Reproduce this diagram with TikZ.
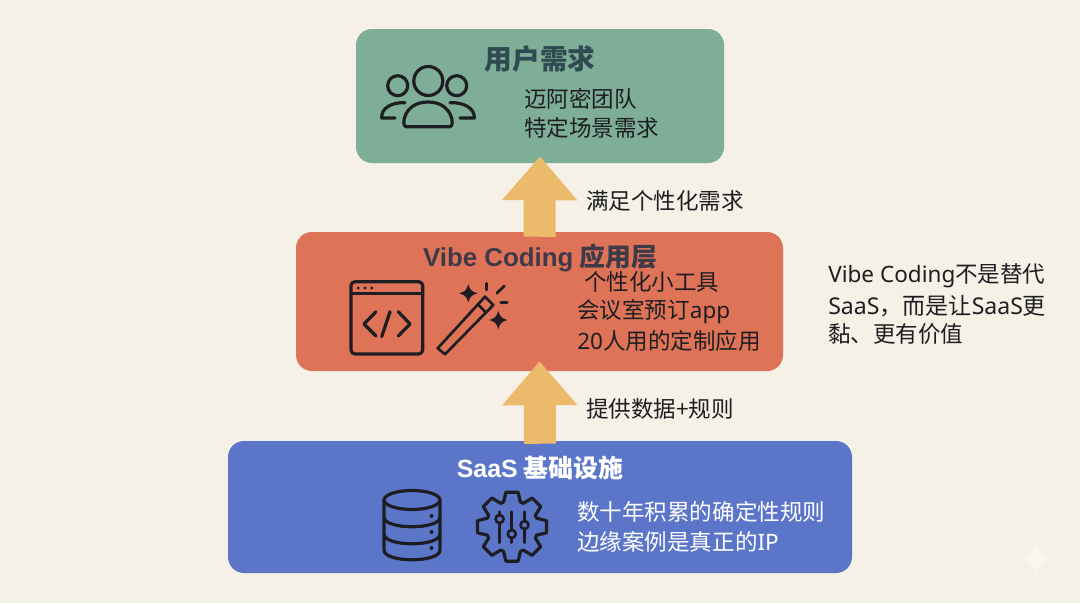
\documentclass[tikz,border=0pt]{standalone}
\usepackage{fontspec}
\usetikzlibrary{arrows.meta,calc}
\newfontfamily\cjkf{Noto Sans CJK SC}
\newfontfamily\latf{Noto Sans}
\newfontfamily\latb{Liberation Sans}
\newcommand{\lat}[1]{{\latf #1}}
\newcommand{\latbold}[1]{{\latb\bfseries #1}}
\newcommand{\fsz}[1]{\fontsize{#1}{#1}\selectfont}
\definecolor{bgc}{HTML}{F5F1E6}
\definecolor{greenc}{HTML}{7FAE98}
\definecolor{orangec}{HTML}{DF7358}
\definecolor{bluec}{HTML}{5B75C9}
\definecolor{arrowc}{HTML}{EBBB6B}
\definecolor{titlegreen}{HTML}{2F4A50}
\definecolor{titleorange}{HTML}{3F3A48}
\definecolor{inkc}{HTML}{1E1E22}
\definecolor{sparkc}{HTML}{F9F6EF}
\tikzset{
  x=0.75pt,y=-0.75pt,
  box/.style={draw=none,rounded corners=12pt,inner sep=0pt},
  txt/.style={inner sep=0pt,anchor=west,font=\cjkf\fsz{16.9},text=inkc,yshift=-0.7pt},
  title/.style={inner sep=0pt,anchor=center,font=\cjkf\bfseries\fsz{20.8}},
  flow/.style={draw=arrowc,line width=24pt,-{Triangle[length=33pt,width=54.5pt,color=arrowc]}},
  icon/.style={draw=inkc,line width=2.4pt,line cap=round,line join=round,fill=none},
  iconthin/.style={icon,line width=2pt},
}
\begin{document}
\begin{tikzpicture}
\useasboundingbox (0,0) rectangle (1080,603);
\fill[bgc] (0,0) rectangle (1080,603);
% boxes
\node[box,fill=greenc,minimum width=276pt,minimum height=100.5pt] (userbox) at (540,96) {};
\node[box,fill=orangec,minimum width=365.25pt,minimum height=104.25pt] (appbox) at (539.5,301.5) {};
\node[box,fill=bluec,minimum width=468pt,minimum height=99pt] (saasbox) at (540,507) {};
% arrows
\coordinate (a1s) at ($(appbox.north)+(0,5)$);
\coordinate (a1e) at ($(userbox.south)+(0,-7)$);
\coordinate (a2s) at ($(saasbox.north)+(0,3)$);
\coordinate (a2e) at ($(appbox.south)+(0,-10)$);
\draw[flow] (a1s) -- (a1e);
\draw[flow] (a2s) -- (a2e);
% titles
\node[title,text=titlegreen] (t1) at (540,59) {用户需求};
\node[title,text=titleorange,font=\cjkf\bfseries\fsz{19.4}] (t2) at (540,258) {\latbold{Vibe Coding} 应用层};
\node[title,text=white,font=\cjkf\bfseries\fsz{18.7}] (t3) at (540,468) {\latbold{SaaS} 基础设施};
% body text
\node[txt] (u1) at (524,98) {迈阿密团队};
\node[txt] (u2) at (524,127) {特定场景需求};
\node[txt] (l1) at (586,200) {满足个性化需求};
\node[txt] (a1) at (584,281) {个性化小工具};
\node[txt] (a2) at (577,311) {会议室预订\lat{app}};
\node[txt] (a3) at (577,340) {\lat{20}人用的定制应用};
\node[txt] (l2) at (586,408) {提供数据+规则};
\node[txt,text=white] (s1) at (577,511) {数十年积累的确定性规则};
\node[txt,text=white] (s2) at (577,541) {边缘案例是真正的\lat{IP}};
\node[txt] (n1) at (828,275) {\lat{Vibe Coding}不是替代};
\node[txt,font=\cjkf\fsz{17.3}] (n2) at (828,305) {\lat{SaaS}，而是让\lat{SaaS}更};
\node[txt] (n3) at (828,333) {黏、更有价值};
% people icon
\draw[icon] (428.3,81) circle (14.5);
\draw[icon] (397.7,85.7) circle (10);
\draw[icon] (456.7,85.7) circle (10);
\draw[icon] (406,126.7) .. controls (401,126.7) and (403,102) .. (428,102) .. controls (453,102) and (455,126.7) .. (450,126.7) -- cycle;
\draw[icon] (405,102.7) .. controls (392,102) and (381,108) .. (381.7,118) -- (395,118);
\draw[icon] (450,102.7) .. controls (463,102) and (475,108) .. (474.3,118) -- (460,118);
% window icon
\draw[icon,rounded corners=3pt] (351,281.7) rectangle (422.7,354);
\draw[icon] (351,293.3) -- (422.7,293.3);
\foreach \dx in {358.3,365,371.7} \fill[inkc] (\dx,288) circle (1.6);
\draw[icon] (376,311.7) -- (364,324) -- (376,336);
\draw[icon] (398.3,311.7) -- (410,324) -- (398.3,336);
\draw[icon] (390,311.7) -- (381.7,336.7);
% wand icon
\draw[iconthin] (437.7,348.3) -- (445,354.3) -- (493.3,305) -- (485,296.7) -- cycle;
\draw[iconthin] (477.7,304) -- (485,311.7);
\foreach \cx/\cy in {468.3/293.3,498.3/320}
  \fill[inkc] (\cx-9,\cy) .. controls (\cx-3,\cy-2) and (\cx-2,\cy-3) .. (\cx,\cy-9)
     .. controls (\cx+2,\cy-3) and (\cx+3,\cy-2) .. (\cx+9,\cy)
     .. controls (\cx+3,\cy+2) and (\cx+2,\cy+3) .. (\cx,\cy+9)
     .. controls (\cx-2,\cy+3) and (\cx-3,\cy+2) .. (\cx-9,\cy) -- cycle;
\draw[iconthin] (486.7,283.3) -- (486.7,290);
\draw[iconthin] (504.3,286) -- (496.7,293.3);
\draw[iconthin] (500.7,302.3) -- (507.3,302.3);
% database icon
\draw[icon] (412,500) ellipse [x radius=28,y radius=9.5];
\draw[icon] (384,500) -- (384,550) .. controls (384,563) and (440,563) .. (440,550) -- (440,500);
\draw[icon] (384,517) .. controls (384,530) and (440,530) .. (440,517);
\draw[icon] (384,534) .. controls (384,547) and (440,547) .. (440,534);
\foreach \dy in {516,532,548} \fill[inkc] (431.5,\dy) circle (2);
% gear icon
\foreach \k in {0,45,...,315} {
  \draw[icon] ({512+26*cos(\k-19)},{526.7+26*sin(\k-19)}) --
    ({512+35*cos(\k-10)},{526.7+35*sin(\k-10)}) --
    ({512+35*cos(\k+10)},{526.7+35*sin(\k+10)}) --
    ({512+26*cos(\k+19)},{526.7+26*sin(\k+19)}) --
    ({512+26*cos(\k+26)},{526.7+26*sin(\k+26)});
}
\foreach \sx/\ky in {499.6/519,511.8/534,524.5/525} {
  \draw[iconthin] (\sx,511.7) -- (\sx,\ky-4);
  \draw[iconthin] (\sx,\ky+4) -- (\sx,542.7);
  \draw[iconthin] (\sx,\ky) circle (4);
}
% corner spark
\fill[sparkc] (1036,540) .. controls (1038,551) and (1042,556) .. (1052,558)
   .. controls (1042,560) and (1038,565) .. (1036,576)
   .. controls (1034,565) and (1030,560) .. (1020,558)
   .. controls (1030,556) and (1034,551) .. (1036,540) -- cycle;
\end{tikzpicture}
\end{document}
